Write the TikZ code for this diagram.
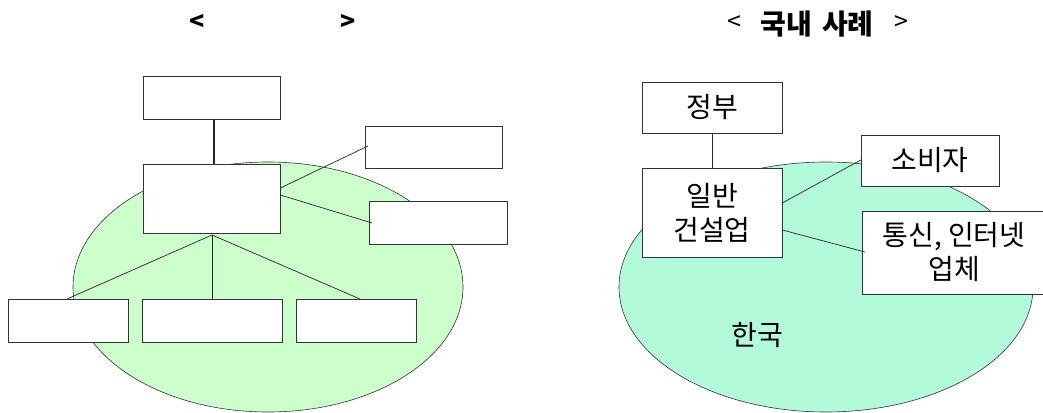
\documentclass[tikz,border=0pt]{standalone}
\usepackage{fontspec}
\usetikzlibrary{shapes.geometric}
\newfontfamily\kr{Noto Sans CJK KR}
\definecolor{lgreen}{RGB}{204,255,204}
\definecolor{mint}{RGB}{178,250,218}
\begin{document}
\begin{tikzpicture}[x=1pt,y=-1pt,
  box/.style={draw=black!80,fill=white,line width=0.7pt,inner sep=0pt,font=\kr\fontsize{28}{34}\selectfont,align=center},
  conn/.style={draw=black!85,line width=0.7pt},
  blob/.style={draw=black!80,line width=0.6pt},
  ttl/.style={font=\kr\fontsize{25}{30}\selectfont,inner sep=0pt}]
\useasboundingbox (0,0) rectangle (1043,412);
% left panel
\node[blob,fill=lgreen,ellipse,minimum width=390,minimum height=250,inner sep=0pt] (e1) at (268,287) {};
\node[ttl,font=\kr\bfseries\fontsize{25}{30}\selectfont] (lt1) at (197,22) {<};
\node[ttl,font=\kr\bfseries\fontsize{25}{30}\selectfont] (lt2) at (348,22) {>};
\node[box,minimum width=137,minimum height=43] (t) at (211.5,97.5) {};
\node[box,minimum width=137,minimum height=69] (m) at (211.5,198.5) {};
\node[box,minimum width=137,minimum height=42] (r1) at (433.5,147) {};
\node[box,minimum width=138,minimum height=43] (r2) at (438,222.5) {};
\node[box,minimum width=120,minimum height=43] (b1) at (68,320.5) {};
\node[box,minimum width=140,minimum height=43] (b2) at (212,320.5) {};
\node[box,minimum width=120,minimum height=43] (b3) at (356,320.5) {};
\coordinate (mb) at (212,235);
\draw[conn,line width=1.6pt] (214,119) -- (214,164);
\draw[conn] (m.east |- 0,188) -- (368,146);
\draw[conn] (m.east |- 0,195) -- (372,223);
\draw[conn] (mb) -- (67,299);
\draw[conn] (mb) -- (b2.north);
\draw[conn] (mb) -- (360,299);
% right panel
\node[blob,fill=mint,ellipse,minimum width=414,minimum height=250,inner sep=0pt] (e2) at (826,287) {};
\node[ttl] (rt1) at (734,23) {<};
\node[ttl,font=\kr\bfseries\fontsize{28}{30}\selectfont] (rt) at (817,24) {국내\hspace{10pt}사례};
\node[ttl] (rt2) at (901,23) {>};
\node[box,minimum width=140,minimum height=51] (gov) at (712,107.5) {정부};
\node[box,minimum width=140,minimum height=89] (gen) at (712,212.5) {일반\\건설업};
\node[box,minimum width=138,minimum height=51] (con) at (930,160.5) {소비자};
\node[box,minimum width=184,minimum height=83] (tel) at (954,252.5) {통신, 인터넷\\업체};
\node[font=\kr\fontsize{28}{30}\selectfont] (kor) at (757,335) {한국};
\draw[conn] (gov) -- (gen);
\draw[conn] (gen.east |- 0,203) -- (con.west |- 0,160);
\draw[conn] (gen.east |- 0,230) -- (865,252);
\end{tikzpicture}
\end{document}
